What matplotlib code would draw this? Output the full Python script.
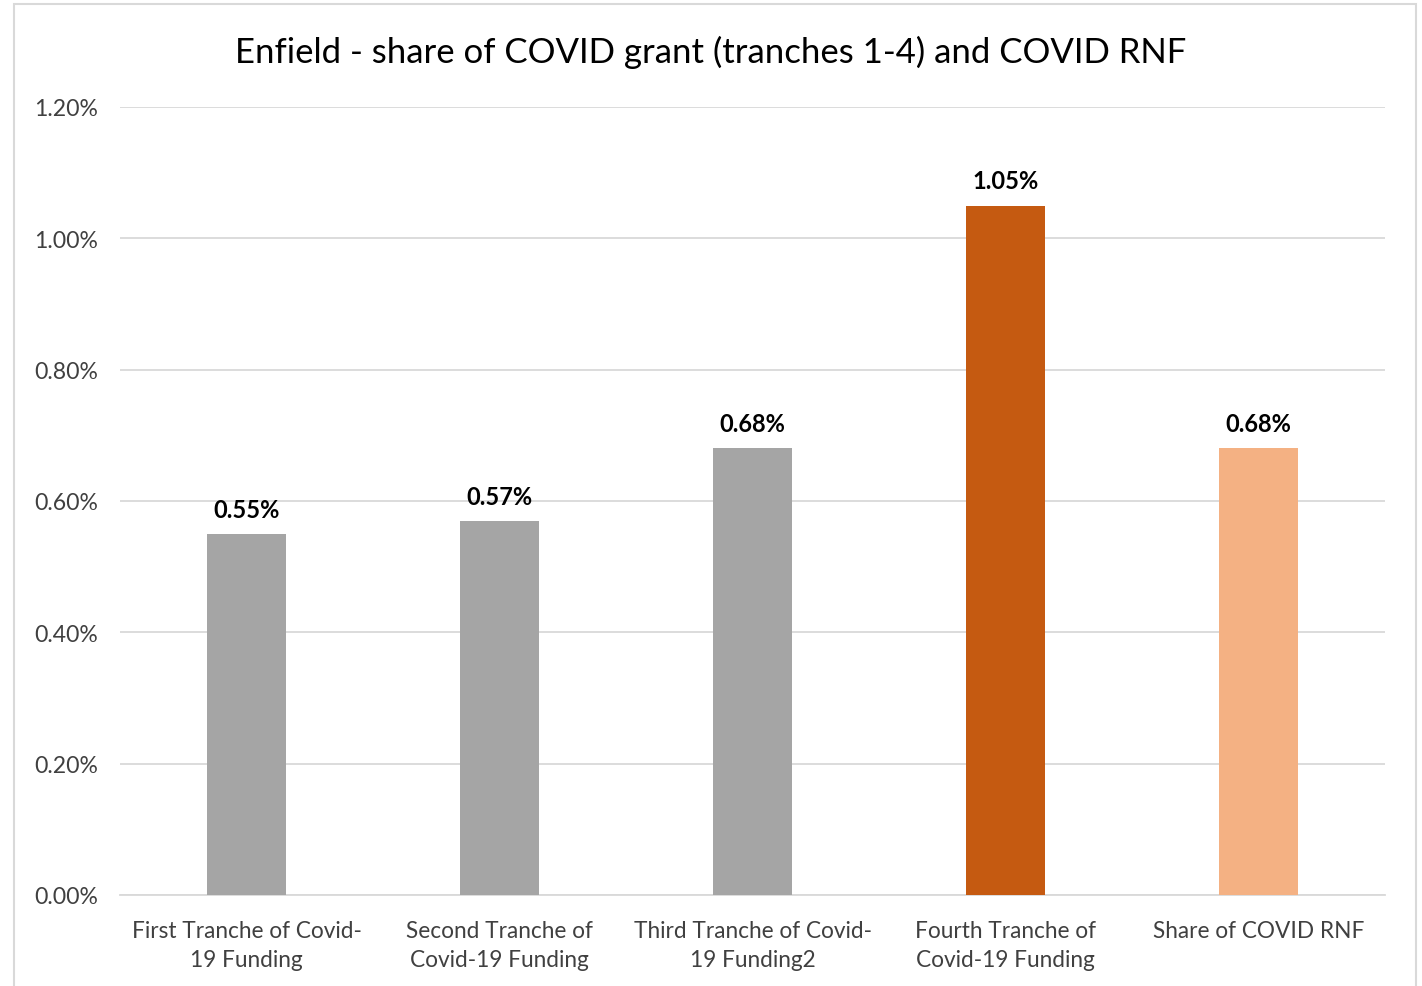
import matplotlib.pyplot as plt
from matplotlib.patches import Rectangle
from matplotlib.ticker import FuncFormatter

plt.rcParams['font.family'] = ['Lato', 'DejaVu Sans']

categories = ['First Tranche of Covid-\n19 Funding',
              'Second Tranche of\nCovid-19 Funding',
              'Third Tranche of Covid-\n19 Funding2',
              'Fourth Tranche of\nCovid-19 Funding',
              'Share of COVID RNF']
shares = [0.0055, 0.0057, 0.0068, 0.0105, 0.0068]
bar_colors = ['#A5A5A5', '#A5A5A5', '#A5A5A5', '#C55A11', '#F4B183']
yticks = [0, 0.002, 0.004, 0.006, 0.008, 0.010, 0.012]

fig = plt.figure(figsize=(14.22, 9.87), dpi=100)
fig.patches.append(Rectangle((14/1422, -0.01), (1416-14)/1422, 1 - 5/987 + 0.01,
                             transform=fig.transFigure, fill=False,
                             edgecolor='#D9D9D9', linewidth=1.5))
ax = fig.add_axes([120/1422, 1-896/987, (1385-120)/1422, (896-108)/987])

x = list(range(len(categories)))
bars = ax.bar(x, shares, width=0.315, color=bar_colors, zorder=3)
for b, v in zip(bars, shares):
    ax.text(b.get_x() + b.get_width()/2, v + 0.0002, '%.2f%%' % (v*100),
            ha='center', va='bottom', fontsize=17, fontweight='bold', color='#000000')

ax.set_xlim(-0.5, 4.5)
ax.set_ylim(0, 0.012)
ax.set_yticks(yticks)
ax.yaxis.set_major_formatter(FuncFormatter(lambda v, p: '%.2f%%' % (v*100)))
ax.set_xticks(x)
ax.set_xticklabels(categories, fontsize=16.3, color='#404040', linespacing=1.48)
ax.tick_params(axis='y', labelsize=16.6, labelcolor='#404040', length=0, pad=16)
ax.tick_params(axis='x', length=0, pad=18)
ax.grid(axis='y', color='#D9D9D9', linewidth=1.3, zorder=0)
for s in ['top', 'right', 'left']:
    ax.spines[s].set_visible(False)
ax.spines['bottom'].set_color('#D9D9D9')
ax.spines['bottom'].set_linewidth(1.3)

fig.text(0.5, 1-52/987, 'Enfield - share of COVID grant (tranches 1-4) and COVID RNF',
         ha='center', va='center', fontsize=25, color='#000000')

fig.savefig('out.png', dpi=100)
